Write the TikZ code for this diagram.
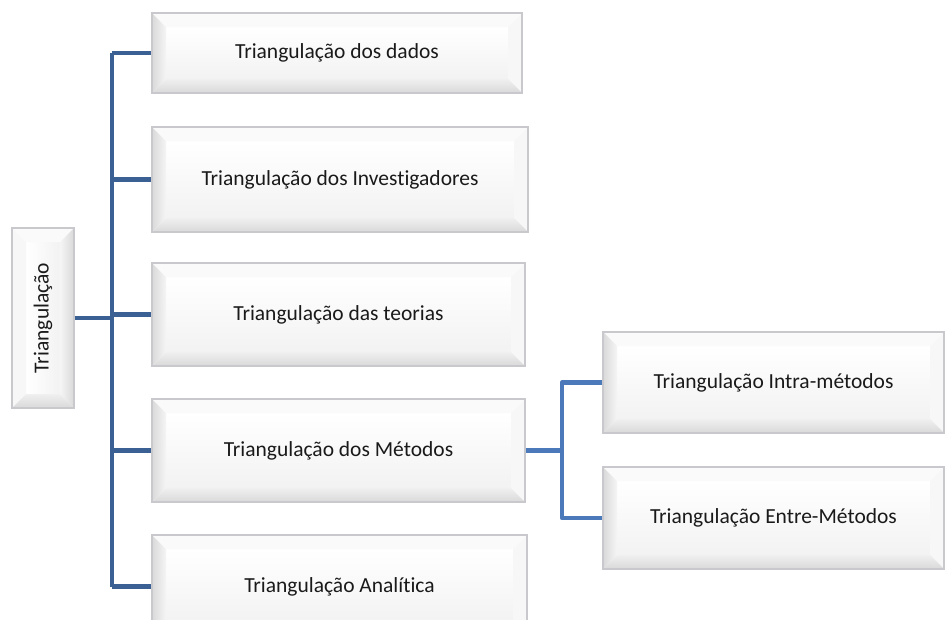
\documentclass[tikz,border=0pt]{standalone}
\usepackage{fontspec}
\usepackage{graphicx}
\setmainfont{Carlito}[RawFeature={-liga;-clig;-calt;-dlig}]
\definecolor{boxline}{HTML}{C9C9CD}
\definecolor{trunk}{HTML}{3B6094}
\definecolor{branch}{HTML}{4C79BA}
\definecolor{ink}{HTML}{1A1A1A}
\newcommand{\bv}{14pt}
% bevelled box: light facets on top/right, shaded facets on left/bottom
\tikzset{
  hbevel/.style={draw=boxline, line width=1.3pt, fill=white,
    path picture={
      \coordinate (pnw) at (path picture bounding box.north west);
      \coordinate (pne) at (path picture bounding box.north east);
      \coordinate (psw) at (path picture bounding box.south west);
      \coordinate (pse) at (path picture bounding box.south east);
      \coordinate (inw) at ([xshift=\bv,yshift=-\bv]pnw);
      \coordinate (ine) at ([xshift=-\bv,yshift=-\bv]pne);
      \coordinate (isw) at ([xshift=\bv,yshift=\bv]psw);
      \coordinate (ise) at ([xshift=-\bv,yshift=\bv]pse);
      \shade[top color=white, bottom color=gray!10] (inw) rectangle (ise);
      \fill[gray!4] (pnw) -- (pne) -- (ine) -- (inw) -- cycle;
      \fill[gray!6] (pne) -- (pse) -- (ise) -- (ine) -- cycle;
      \shade[left color=gray!30, right color=gray!8] (pnw) -- (inw) -- (isw) -- (psw) -- cycle;
      \shade[top color=gray!12, bottom color=gray!30] (psw) -- (isw) -- (ise) -- (pse) -- cycle;
    }},
  vbevel/.style={draw=boxline, line width=1.3pt, fill=white,
    path picture={
      \coordinate (pnw) at (path picture bounding box.north west);
      \coordinate (pne) at (path picture bounding box.north east);
      \coordinate (psw) at (path picture bounding box.south west);
      \coordinate (pse) at (path picture bounding box.south east);
      \coordinate (inw) at ([xshift=\bv,yshift=-\bv]pnw);
      \coordinate (ine) at ([xshift=-\bv,yshift=-\bv]pne);
      \coordinate (isw) at ([xshift=\bv,yshift=\bv]psw);
      \coordinate (ise) at ([xshift=-\bv,yshift=\bv]pse);
      \shade[left color=white, right color=gray!10] (inw) rectangle (ise);
      \fill[gray!4] (pnw) -- (pne) -- (ine) -- (inw) -- cycle;
      \fill[gray!6] (pnw) -- (inw) -- (isw) -- (psw) -- cycle;
      \shade[left color=gray!8, right color=gray!30] (pne) -- (pse) -- (ise) -- (ine) -- cycle;
      \shade[top color=gray!12, bottom color=gray!30] (psw) -- (isw) -- (ise) -- (pse) -- cycle;
    }},
  conn/.style={draw=trunk, line width=4.8pt},
  subconn/.style={draw=branch, line width=4.8pt, line join=round},
  label/.style={font=\fontsize{21.5}{24}\selectfont, text=ink, inner sep=0pt}
}
\begin{document}
\begin{tikzpicture}[x=1pt,y=-1pt]
\useasboundingbox (0,0) rectangle (945,619);
\clip (0,0) rectangle (945,619);

% boxes
\node[hbevel, label, minimum width=370pt, minimum height=80pt]  (b1) at (337,53)    {Triangulação dos dados};
\node[hbevel, label, minimum width=376pt, minimum height=105pt] (b2) at (340,179.5) {Triangulação dos Investigadores};
\node[hbevel, label, minimum width=373pt, minimum height=103pt] (b3) at (338.5,314.5) {Triangulação das teorias};
\node[hbevel, label, minimum width=373pt, minimum height=103pt] (b4) at (338.5,450.5) {Triangulação dos Métodos};
\node[hbevel, label, minimum width=375pt, minimum height=103pt] (b5) at (339.5,586.5) {Triangulação Analítica};
\node[vbevel, label, minimum width=62pt, minimum height=180pt]  (root) at (43,318) {\rotatebox{90}{Triangulação}};
\node[hbevel, label, minimum width=341pt, minimum height=101pt] (r1) at (773.5,382.5) {Triangulação Intra-métodos};
\node[hbevel, label, minimum width=341pt, minimum height=102pt] (r2) at (773.5,518) {Triangulação Entre-Métodos};

% main tree
\coordinate (spine) at (112,0);
\draw[conn] (b1.west -| spine) -- (b5.west -| spine);
\draw[conn] (root.east) -- (root.east -| spine);
\foreach \b in {b1,b2,b3,b4,b5}
  \draw[conn] (\b.west -| spine) -- (\b.west);

% methods branch
\coordinate (rsp) at (562,0);
\draw[subconn] (b4.east) -- (b4.east -| rsp);
\draw[subconn] (r1.west) -- (r1.west -| rsp) -- (r2.west -| rsp) -- (r2.west);
\end{tikzpicture}
\end{document}
